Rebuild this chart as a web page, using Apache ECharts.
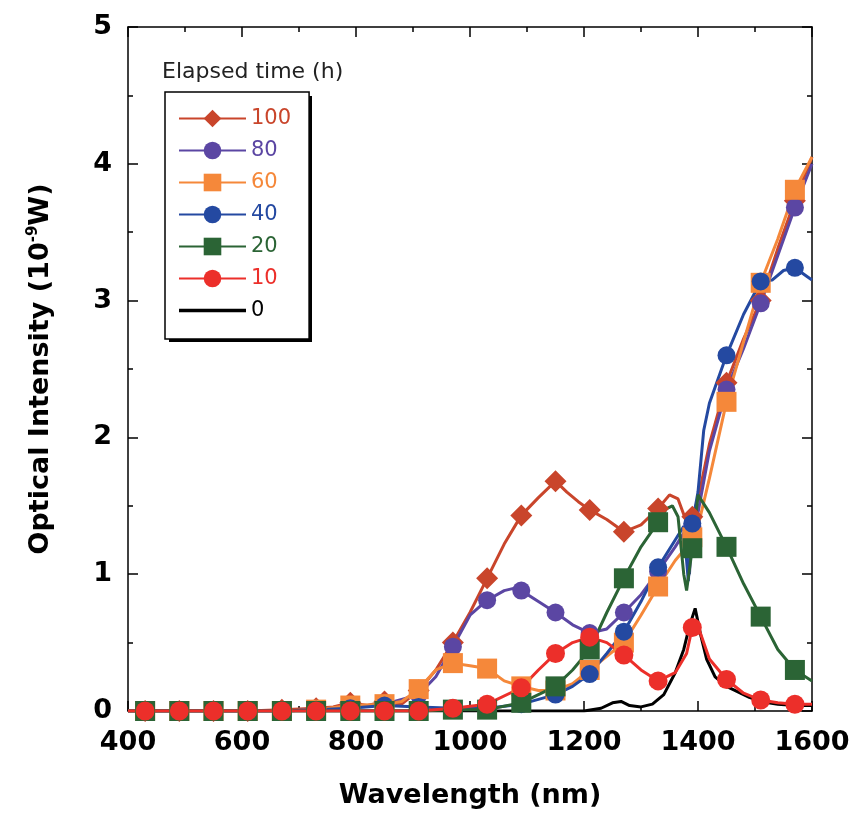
<!DOCTYPE html>
<html><head><meta charset="utf-8">
<script src="https://cdn.jsdelivr.net/npm/echarts@6/dist/echarts.min.js"></script>
<style>html,body{margin:0;padding:0;background:#fff}#c{width:853px;height:814px}</style>
</head><body><div id="c"></div><script>
// Wavelengths (nm) where markers are drawn
const markerWl = [430,490,550,610,670,730,790,850,910,970,1030,1090,1150,1210,1270,1330,1390,1450,1510,1570];
const xTicks = [400,600,800,1000,1200,1400,1600];
const yTicks = [0,1,2,3,4,5];

// Elapsed time 100 h
const wl100  = [400,430,490,550,610,670,730,760,790,820,850,880,910,940,970,1000,1030,1060,1090,1120,1150,1170,1190,1210,1240,1270,1300,1330,1350,1365,1380,1390,1400,1420,1450,1480,1510,1540,1570,1600];
const val100 = [0,0,0,0,0,0.01,0.02,0.03,0.06,0.04,0.07,0.05,0.15,0.3,0.5,0.72,0.97,1.22,1.43,1.56,1.68,1.6,1.53,1.47,1.4,1.31,1.36,1.48,1.58,1.55,1.38,1.42,1.55,1.95,2.4,2.72,3.0,3.38,3.73,4.05];
// 80 h
const wl80  = [400,430,490,550,610,670,730,790,850,910,940,970,1000,1030,1060,1080,1090,1120,1150,1180,1210,1240,1270,1300,1330,1360,1375,1385,1390,1400,1420,1450,1480,1510,1540,1570,1600];
const val80 = [0,0,0,0,0,0,0.01,0.03,0.05,0.12,0.25,0.47,0.7,0.81,0.88,0.9,0.88,0.8,0.72,0.63,0.57,0.6,0.72,0.85,1.02,1.2,1.3,1.0,1.35,1.45,1.9,2.35,2.65,2.98,3.33,3.68,4.0];
// 60 h
const wl60  = [400,430,490,550,610,670,730,790,850,880,910,940,970,1000,1030,1060,1090,1120,1150,1180,1210,1240,1270,1300,1330,1360,1380,1390,1400,1420,1450,1480,1510,1540,1570,1600];
const val60 = [0,0,0,0,0,0,0.01,0.04,0.05,0.07,0.16,0.3,0.35,0.33,0.31,0.22,0.18,0.15,0.15,0.2,0.3,0.4,0.5,0.7,0.91,1.1,1.2,1.27,1.35,1.7,2.26,2.7,3.13,3.45,3.81,4.05];
// 40 h
const wl40  = [400,430,490,550,610,670,730,790,850,910,970,1030,1090,1150,1180,1210,1240,1270,1300,1330,1360,1375,1383,1390,1400,1410,1420,1450,1480,1510,1530,1550,1570,1590,1600];
const val40 = [0,0,0,0,0,0,0.01,0.02,0.04,0.03,0.02,0.02,0.05,0.12,0.18,0.27,0.42,0.58,0.8,1.05,1.25,1.35,0.95,1.37,1.6,2.05,2.25,2.6,2.9,3.14,3.15,3.22,3.24,3.18,3.15];
// 20 h
const wl20  = [400,430,490,550,610,670,730,790,850,910,970,1030,1090,1150,1180,1210,1240,1270,1300,1330,1345,1355,1365,1375,1380,1390,1400,1420,1450,1480,1510,1540,1570,1600];
const val20 = [0,0,0,0,0,0,0,0,0,0,0.01,0.01,0.06,0.18,0.3,0.45,0.72,0.97,1.2,1.38,1.48,1.5,1.42,1.0,0.88,1.19,1.58,1.45,1.2,0.93,0.69,0.45,0.3,0.22];
// 10 h
const wl10  = [400,430,490,550,610,670,730,790,850,910,970,1030,1090,1120,1150,1180,1210,1240,1270,1300,1330,1360,1380,1390,1400,1420,1450,1480,1510,1540,1570,1600];
const val10 = [0,0,0,0,0,0,0,0,0,0,0.02,0.05,0.17,0.3,0.42,0.5,0.54,0.5,0.41,0.3,0.22,0.28,0.42,0.61,0.62,0.38,0.23,0.13,0.08,0.06,0.05,0.05];
// 0 h
const wl0  = [400,600,800,1000,1200,1230,1250,1265,1280,1300,1320,1340,1360,1375,1385,1395,1405,1415,1430,1450,1470,1490,1510,1540,1570,1600];
const val0 = [0,0,0,0,0,0.02,0.06,0.07,0.04,0.03,0.05,0.12,0.28,0.45,0.62,0.75,0.55,0.38,0.25,0.18,0.14,0.1,0.07,0.05,0.04,0.04];

const names   = ['100','80','60','40','20','10','0'];
const colors  = ['#c9452b','#5b46a3','#f5883a','#2449a1','#2b6435','#ec2f2a','#000000'];
const symbols = ['diamond','circle','rect','circle','rect','circle','none'];
const sizes   = [22,18,20,18,20,19,0];
const wls  = [wl100,wl80,wl60,wl40,wl20,wl10,wl0];
const vals = [val100,val80,val60,val40,val20,val10,val0];

const FONT = 'DejaVu Sans, Verdana, sans-serif';

function buildSeries(i){
  const data = wls[i].map((w,k)=> markerWl.includes(w) && symbols[i] !== 'none'
      ? [w, vals[i][k]]
      : {value:[w, vals[i][k]], symbol:'none'});
  return {
    name: names[i], type:'line', data: data,
    symbol: symbols[i], symbolSize: sizes[i],
    showSymbol: symbols[i] !== 'none',
    lineStyle:{color: colors[i], width: 3},
    itemStyle:{color: colors[i]},
    emphasis:{disabled:true},
    animation:false
  };
}
const order = [6,0,1,2,3,4,5];
const series = order.map(buildSeries);

const axisCommon = {
  type:'value',
  axisLine:{show:true, onZero:false, lineStyle:{color:'#000', width:1.5}},
  axisTick:{show:true, inside:true, length:10, lineStyle:{color:'#000', width:1.5}},
  minorTick:{show:true, splitNumber:2, length:5, lineStyle:{color:'#000', width:1.5}},
  splitLine:{show:false}
};
const labelStyle = {fontFamily:FONT, fontSize:27, fontWeight:'bold', color:'#000'};

const chart = echarts.init(document.getElementById('c'), null, {renderer:'canvas'});
chart.setOption({
  backgroundColor:'#fff',
  animation:false,
  title:{text:'Elapsed time (h)', left:157, top:56,
    textStyle:{fontFamily:FONT, fontSize:22, fontWeight:'normal', color:'#222'}},
  graphic:[{type:'rect', z:1, left:169, top:96, shape:{width:143, height:246},
    style:{fill:'#000'}, silent:true}],
  legend:{
    orient:'vertical', left:165, top:92, z:10,
    padding:[16,18,18,13], itemWidth:67, itemHeight:22, itemGap:11,
    borderColor:'#000', borderWidth:1.5, backgroundColor:'#fff',
    data: names.map((n,i)=>{
      const d = {name:n, textStyle:{color:colors[i]}};
      if (symbols[i] === 'none') d.icon = 'path://M0,0H100V5H0Z';
      return d;
    }),
    textStyle:{fontFamily:FONT, fontSize:21},
    selectedMode:false
  },
  grid:{left:128, top:27, width:684, height:684, containLabel:false},
  xAxis:[
    Object.assign({}, axisCommon, {
      position:'bottom', min:xTicks[0], max:xTicks[xTicks.length-1], interval:200,
      name:'Wavelength (nm)', nameLocation:'middle', nameGap:71,
      nameTextStyle:{fontFamily:FONT, fontSize:27, fontWeight:'bold', color:'#000'},
      axisLabel:Object.assign({show:true, margin:18, formatter:v=>String(v)}, labelStyle)
    }),
    Object.assign({}, axisCommon, {
      position:'top', min:xTicks[0], max:xTicks[xTicks.length-1], interval:200,
      axisLabel:{show:false}
    })
  ],
  yAxis:[
    Object.assign({}, axisCommon, {
      position:'left', min:yTicks[0], max:yTicks[yTicks.length-1], interval:1,
      name:'{a|Optical Intensity (10}{s|-9}{a|W)}', nameLocation:'middle', nameGap:72,
      nameTextStyle:{color:'#000', rich:{
        a:{fontFamily:FONT, fontSize:27, fontWeight:'bold', color:'#000'},
        s:{fontFamily:FONT, fontSize:15, fontWeight:'bold', color:'#000', padding:[0,0,15,0]}
      }},
      axisLabel:Object.assign({show:true, margin:16, formatter:v=>String(v)}, labelStyle)
    }),
    Object.assign({}, axisCommon, {
      position:'right', min:yTicks[0], max:yTicks[yTicks.length-1], interval:1,
      axisLabel:{show:false}
    })
  ],
  series: series
});
</script></body></html>
